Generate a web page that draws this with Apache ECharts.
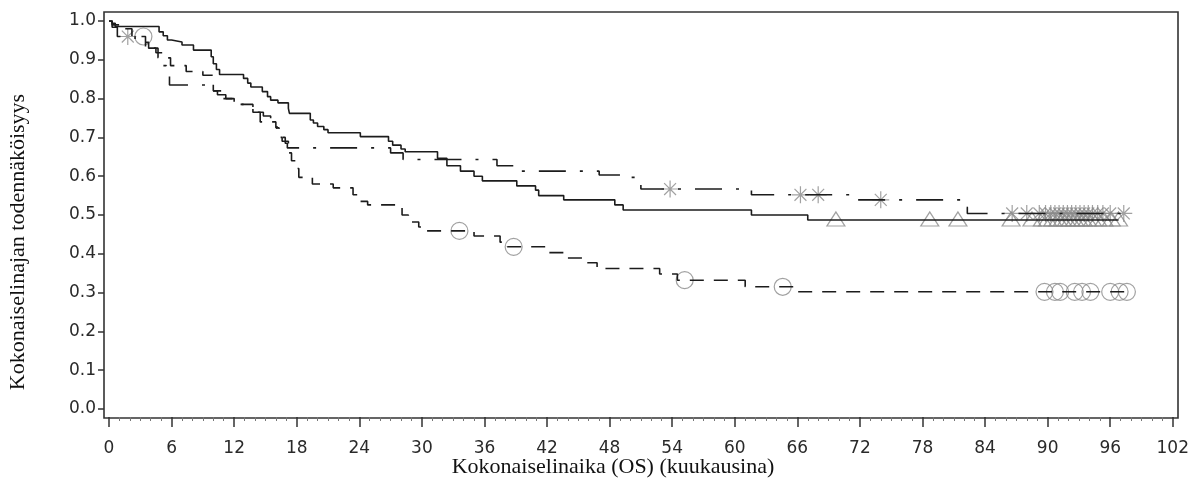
<!DOCTYPE html>
<html>
<head>
<meta charset="utf-8">
<script src="https://cdn.jsdelivr.net/npm/echarts@6/dist/echarts.min.js"></script>
<style>
  html, body { margin: 0; padding: 0; background: #fff; }
  #chart { width: 1192px; height: 481px; }
</style>
</head>
<body>
<div id="chart"></div>
<script>
// solid line, triangle censors
var timesA = [0, 0.3, 0.6, 4.8, 5.2, 5.6, 6.0, 7.0, 8.1, 9.8, 10.0, 10.3, 10.6, 12.9, 13.3, 13.6, 14.7, 15.2, 15.5, 16.2, 17.2, 17.3, 19.3, 19.6, 20.0, 20.6, 21.0, 24.1, 26.8, 27.2, 28.0, 28.4, 31.5, 32.4, 33.7, 35.0, 35.8, 39.1, 40.9, 41.2, 43.6, 48.5, 49.3, 61.6, 67.0, 96.8]
var survA = [1, 0.994, 0.986, 0.972, 0.962, 0.951, 0.946, 0.938, 0.925, 0.908, 0.89, 0.875, 0.862, 0.852, 0.84, 0.83, 0.818, 0.805, 0.796, 0.789, 0.775, 0.762, 0.745, 0.737, 0.728, 0.72, 0.712, 0.702, 0.69, 0.68, 0.67, 0.663, 0.646, 0.627, 0.613, 0.60, 0.588, 0.575, 0.564, 0.55, 0.539, 0.526, 0.513, 0.50, 0.487, 0.487]
var censorA = [69.7, 78.7, 81.4, 86.5, 88.5, 89.5, 90.0, 90.5, 91.0, 91.4, 91.8, 92.2, 92.6, 93.0, 93.4, 93.8, 94.3, 94.8, 95.4, 96.1, 96.8]

// dash-dot line, star censors
var timesB = [0, 0.3, 0.8, 2.5, 3.8, 4.5, 5.2, 5.5, 5.8, 9.6, 10.4, 11.2, 12.0, 13.0, 13.8, 14.8, 15.5, 16.1, 16.5, 16.9, 17.1, 27.0, 28.2, 37.2, 39.5, 47.0, 49.0, 50.7, 51.0, 61.6, 71.8, 82.1, 82.3, 97.3]
var survB = [1, 0.984, 0.96, 0.945, 0.93, 0.918, 0.885, 0.86, 0.835, 0.82, 0.81, 0.80, 0.785, 0.775, 0.765, 0.755, 0.74, 0.72, 0.70, 0.685, 0.673, 0.66, 0.643, 0.627, 0.613, 0.603, 0.597, 0.585, 0.567, 0.552, 0.539, 0.52, 0.504, 0.504]
var censorB = [1.8, 53.8, 66.3, 68.0, 74.0, 86.6, 88.0, 89.2, 89.8, 90.3, 90.7, 91.1, 91.5, 91.9, 92.3, 92.7, 93.1, 93.5, 93.9, 94.3, 94.8, 95.3, 96.0, 97.3]

// dashed line, circle censors
var timesC = [0, 0.3, 1.2, 2.2, 3.5, 4.7, 5.9, 7.4, 9.0, 10.0, 10.8, 12.0, 13.8, 14.5, 16.0, 16.3, 16.6, 17.2, 17.5, 17.9, 18.2, 19.5, 21.5, 23.4, 24.0, 24.8, 28.1, 28.7, 29.7, 30.3, 35.0, 37.5, 38.2, 42.0, 44.0, 45.5, 46.8, 52.8, 54.5, 61.0, 65.7, 97.6]
var survC = [1, 0.99, 0.98, 0.96, 0.93, 0.905, 0.885, 0.87, 0.86, 0.82, 0.80, 0.785, 0.765, 0.74, 0.725, 0.70, 0.69, 0.66, 0.64, 0.62, 0.597, 0.58, 0.57, 0.552, 0.535, 0.526, 0.50, 0.482, 0.469, 0.459, 0.446, 0.43, 0.418, 0.403, 0.389, 0.377, 0.362, 0.348, 0.332, 0.315, 0.302, 0.302]
var censorC = [3.3, 33.6, 38.8, 55.2, 64.6, 89.7, 90.7, 91.2, 92.6, 93.3, 94.1, 96.0, 96.9, 97.6]

var xTicks = { min: 0, max: 102, interval: 6 }
var yTicks = { min: 0, max: 1, interval: 0.1 }

var xTitle = 'Kokonaiselinaika (OS) (kuukausina)'
var yTitle = 'Kokonaiselinajan todennäköisyys'

function pairs(times, surv) {
  return times.map(function(t, i) { return [t, surv[i]] })
}

// y of a censor mark = value of the step curve at that time
function censorPoints(times, surv, cens) {
  return cens.map(function(c) {
    var v = surv[0]
    for (var i = 0; i < times.length; i++) {
      if (times[i] <= c) v = surv[i]
    }
    return [c, v]
  })
}

var lineColor = '#1c1c1c'
var markColor = '#8a8a8a'
var frameColor = '#333'
var star = 'path://M0,5L10,5M5,0L5,10M1.5,1.5L8.5,8.5M1.5,8.5L8.5,1.5'

var chart = echarts.init(document.getElementById('chart'), null, { renderer: 'canvas' })

chart.setOption({
  animation: false,
  backgroundColor: '#fff',
  grid: [
    { left: 109, right: 19, top: 21, bottom: 72 },
    { left: 104, right: 14, top: 12, bottom: 63, show: true, borderColor: frameColor, borderWidth: 1.6, backgroundColor: 'transparent' }
  ],
  graphic: [
    {
      type: 'text',
      x: 613,
      y: 467,
      style: { text: xTitle, fontFamily: 'Liberation Serif', fontSize: 22, fill: '#111', align: 'center', verticalAlign: 'middle' }
    },
    {
      type: 'text',
      x: 18,
      y: 242,
      rotation: Math.PI / 2,
      style: { text: yTitle, fontFamily: 'Liberation Serif', fontSize: 22, fill: '#111', align: 'center', verticalAlign: 'middle' }
    }
  ],
  xAxis: [
    {
      type: 'value',
      gridIndex: 0,
      min: xTicks.min,
      max: xTicks.max,
      interval: xTicks.interval,
      offset: 8,
      axisLine: { show: false, onZero: false },
      axisTick: { show: true, inside: false, length: 10, lineStyle: { color: frameColor, width: 1.5 } },
      minorTick: { show: true, splitNumber: 6, length: 4, lineStyle: { color: '#777', width: 1 } },
      axisLabel: { margin: 23, fontFamily: 'DejaVu Sans', fontSize: 17, color: '#2a2a2a' },
      splitLine: { show: false }
    },
    { type: 'value', gridIndex: 1, show: false, min: 0, max: 1 }
  ],
  yAxis: [
    {
      type: 'value',
      gridIndex: 0,
      min: yTicks.min,
      max: yTicks.max,
      interval: yTicks.interval,
      offset: 5,
      axisLine: { show: false, onZero: false },
      axisTick: { show: true, inside: false, length: 6, lineStyle: { color: frameColor, width: 1.5 } },
      axisLabel: {
        margin: 8,
        fontFamily: 'DejaVu Sans',
        fontSize: 17,
        color: '#2a2a2a',
        formatter: function(v) { return v.toFixed(1) }
      },
      splitLine: { show: false }
    },
    { type: 'value', gridIndex: 1, show: false, min: 0, max: 1 }
  ],
  series: [
    {
      type: 'line',
      step: 'end',
      showSymbol: false,
      data: pairs(timesA, survA),
      lineStyle: { color: lineColor, width: 1.6, type: 'solid' }
    },
    {
      type: 'line',
      step: 'end',
      showSymbol: false,
      data: pairs(timesB, survB),
      lineStyle: { color: lineColor, width: 1.6, type: [27, 14, 3, 14] }
    },
    {
      type: 'line',
      step: 'end',
      showSymbol: false,
      data: pairs(timesC, survC),
      lineStyle: { color: lineColor, width: 1.6, type: [14, 10] }
    },
    {
      type: 'scatter',
      symbol: 'triangle',
      symbolSize: [18, 14],
      symbolOffset: [0, -1],
      data: censorPoints(timesA, survA, censorA),
      itemStyle: { color: 'none', borderColor: markColor, borderWidth: 1.2 }
    },
    {
      type: 'scatter',
      symbol: star,
      symbolSize: 17,
      data: censorPoints(timesB, survB, censorB),
      itemStyle: { color: 'none', borderColor: markColor, borderWidth: 1.2 }
    },
    {
      type: 'scatter',
      symbol: 'circle',
      symbolSize: 17,
      data: censorPoints(timesC, survC, censorC),
      itemStyle: { color: 'none', borderColor: markColor, borderWidth: 1.2 }
    }
  ]
})
</script>
</body>
</html>
